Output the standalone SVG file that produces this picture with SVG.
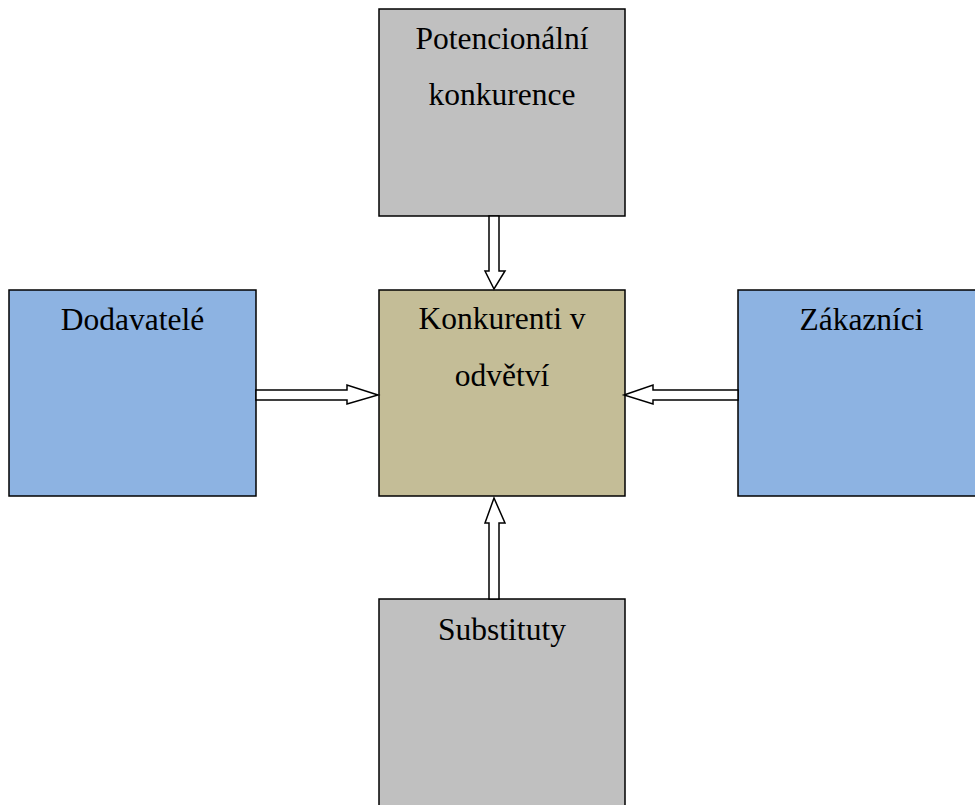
<svg xmlns="http://www.w3.org/2000/svg" width="975" height="805" viewBox="0 0 975 805">
<style>
.box{stroke:#000;stroke-width:1.5}
.grey{fill:#c0c0c0}
.tan{fill:#c4bd97}
.blue{fill:#8db3e2}
text{font-family:"Liberation Serif","Times New Roman",serif;font-size:31.5px;fill:#000;text-anchor:middle}
.arrow{fill:#fff;stroke:#000;stroke-width:1.5;stroke-linejoin:miter}
</style>
<rect width="975" height="805" fill="#fff"/>
<g id="potencionalni">
<rect class="box grey" x="379" y="9" width="246" height="207"/>
<text x="502" y="49">Potencionální</text>
<text x="502" y="105">konkurence</text>
</g>
<g id="konkurenti">
<rect class="box tan" x="379" y="290" width="246" height="206"/>
<text x="502" y="329">Konkurenti v</text>
<text x="502" y="386">odvětví</text>
</g>
<g id="dodavatele">
<rect class="box blue" x="9" y="290" width="247" height="206"/>
<text x="132.5" y="330">Dodavatelé</text>
</g>
<g id="zakaznici">
<rect class="box blue" x="738" y="290" width="247" height="206"/>
<text x="861.5" y="330">Zákazníci</text>
</g>
<g id="substituty">
<rect class="box grey" x="379" y="599" width="246" height="220"/>
<text x="502" y="640">Substituty</text>
</g>
<g id="connectors">
<polygon class="arrow" points="489,216 499,216 499,271 505,271 494,289 485,271 489,271"/>
<polygon class="arrow" points="256,390 256,400 347,400 347,404 378,395 347,385 347,390"/>
<polygon class="arrow" points="738,390 738,400 653,400 653,404 624,395 653,385 653,390"/>
<polygon class="arrow" points="489,599 499,599 499,523 505,523 494,498 485,523 489,523"/>
</g>
</svg>
